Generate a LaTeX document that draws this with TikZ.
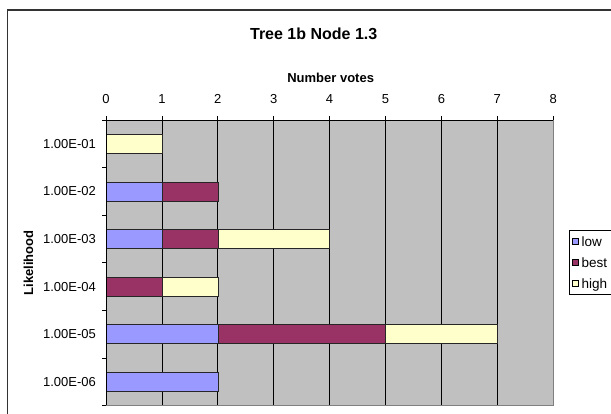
\documentclass[tikz,border=0pt]{standalone}
\usepackage{fontspec}
\setmainfont{Liberation Sans}
\definecolor{plotgray}{HTML}{C0C0C0}
\definecolor{lowc}{HTML}{9999FF}
\definecolor{bestc}{HTML}{993366}
\definecolor{highc}{HTML}{FFFFCC}
\definecolor{framec}{HTML}{333333}
\definecolor{borderc}{HTML}{808080}
\tikzset{
  chartframe/.style={draw=framec, line width=1.3pt},
  gridline/.style={draw=black, line width=0.8pt},
  axisline/.style={draw=black, line width=0.8pt},
  plotborder/.style={draw=borderc, line width=0.8pt},
  barline/.style={draw=black!85, line width=0.6pt},
  ticklabel/.style={font=\fontsize{13}{15}\selectfont, inner sep=0pt},
  axistitle/.style={font=\fontsize{13}{15}\selectfont\bfseries, inner sep=0pt},
  charttitle/.style={font=\fontsize{16}{19}\selectfont\bfseries, inner sep=0pt},
  legendtext/.style={font=\fontsize{13.5}{16}\selectfont, inner sep=0pt, anchor=base west},
  legendkey/.style={draw=black, line width=0.6pt}
}
\newcommand\votebar[4]{\path[barline, fill=#1] (#2,#4+0.3) rectangle (#3,#4+0.7);}
\begin{document}
\begin{tikzpicture}[x=1pt,y=-1pt]
\useasboundingbox (0,0) rectangle (611,413);
\clip (0,0) rectangle (611,413);
\fill[white] (0,0) rectangle (611,413);
% chart area frame
\draw[chartframe] (7.3,430) -- (7.3,10) -- (630,10);
% title and axis titles
\node[charttitle] (title) at (313.7,33.3) {Tree 1b Node 1.3};
\node[axistitle] (xtitle) at (330.7,77.5) {Number votes};
\node[axistitle, rotate=90] (ytitle) at (28.5,263) {Likelihood};
% plot area
\begin{scope}[shift={(106pt,-120pt)}, x=55.9pt, y=-47.58pt]
  \fill[plotgray] (0,0) rectangle (8,6);
  \foreach \k in {1,...,7} \draw[gridline] (\k,0) -- (\k,6);
  \draw[plotborder] (0,6) -- (8,6) -- (8,0);
  % bars: category index 0 = 1.00E-01 ... 5 = 1.00E-06
  \votebar{highc}{0}{1}{0}
  \votebar{lowc}{0}{1}{1}
  \votebar{bestc}{1}{2}{1}
  \votebar{lowc}{0}{1}{2}
  \votebar{bestc}{1}{2}{2}
  \votebar{highc}{2}{4}{2}
  \votebar{bestc}{0}{1}{3}
  \votebar{highc}{1}{2}{3}
  \votebar{lowc}{0}{2}{4}
  \votebar{bestc}{2}{5}{4}
  \votebar{highc}{5}{7}{4}
  \votebar{lowc}{0}{2}{5}
  % axes
  \draw[axisline] (0,6) -- (0,0) -- (8,0);
  \foreach \k in {0,...,8} \draw[axisline] (\k,0) -- ++(0pt,4pt);
  \foreach \j in {0,...,6} \draw[axisline] (0,\j) -- ++(-4pt,0pt);
  % tick labels
  \foreach \k in {0,...,8} \node[ticklabel] (xl\k) at ([yshift=21pt]\k,0) {\k};
  \foreach \lab [count=\j from 0] in {01,02,03,04,05,06}
    \node[ticklabel, anchor=east] (yl\j) at ([xshift=-10pt]0,\j+0.5) {1.00E-\lab};
\end{scope}
% legend
\draw[draw=black, line width=0.7pt, fill=white] (569,230) rectangle (660,294);
\node[legendkey, fill=lowc, minimum size=6pt, inner sep=0pt] (klow) at (575,241.5) {};
\node[legendkey, fill=bestc, minimum size=6pt, inner sep=0pt] (kbest) at (575,262.5) {};
\node[legendkey, fill=highc, minimum size=6pt, inner sep=0pt] (khigh) at (575,283.5) {};
\node[legendtext] (tlow) at (581.5,246.3) {low};
\node[legendtext] (tbest) at (581.5,267.3) {best};
\node[legendtext] (thigh) at (581.5,288.3) {high};
\end{tikzpicture}
\end{document}
